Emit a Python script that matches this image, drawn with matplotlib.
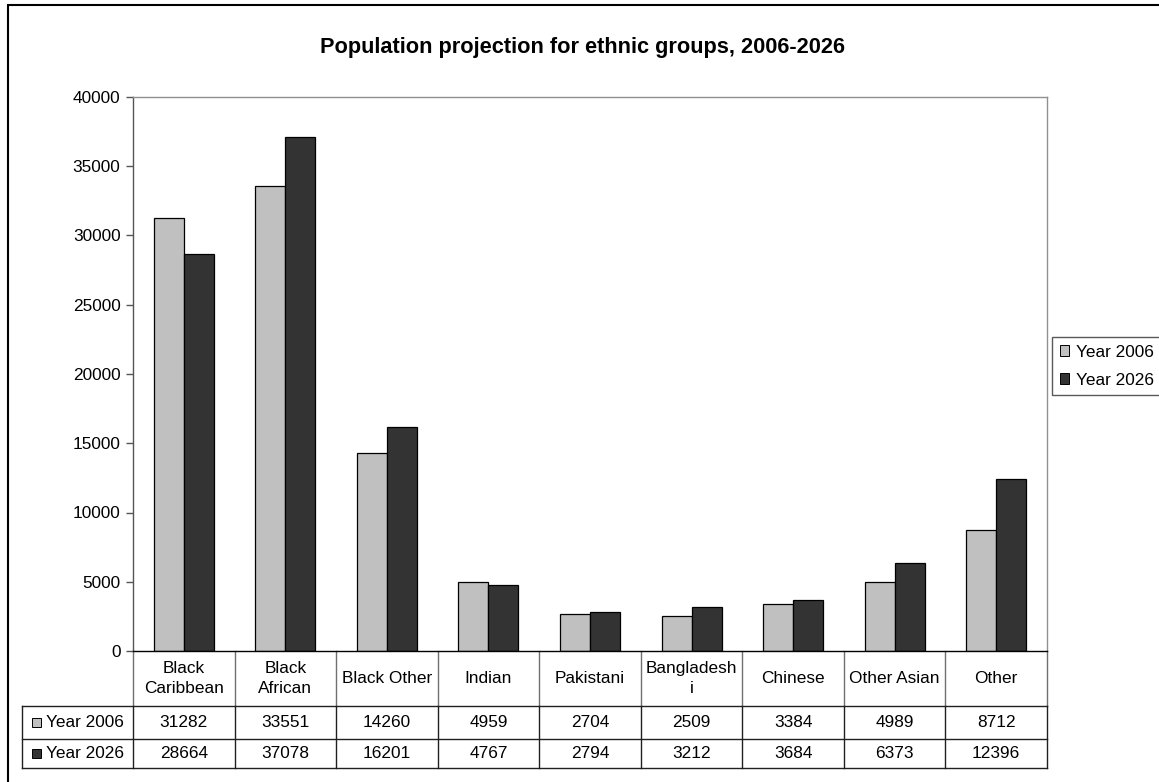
import matplotlib.pyplot as plt
from matplotlib.patches import Patch, Rectangle
import matplotlib.transforms as mtransforms

plt.rcParams['font.family'] = ['Liberation Sans', 'DejaVu Sans']

categories = ['Black\nCaribbean', 'Black\nAfrican', 'Black Other', 'Indian', 'Pakistani',
              'Bangladesh\ni', 'Chinese', 'Other Asian', 'Other']
year_2006 = [31282, 33551, 14260, 4959, 2704, 2509, 3384, 4989, 8712]
year_2026 = [28664, 37078, 16201, 4767, 2794, 3212, 3684, 6373, 12396]
series_names = ['Year 2006', 'Year 2026']
series_colors = ['#c0c0c0', '#333333']

W, H = 1159, 782
FS = 12.4
fig = plt.figure(figsize=(W / 100, H / 100), dpi=100)

# outer chart frame (pixel coords)
fig.patches.append(Rectangle((8 / W, 1 - 790 / H), 1170 / W, 785 / H, transform=fig.transFigure,
                             fill=False, edgecolor='black', linewidth=1.5, clip_on=False))

# plot area
x0, x1, y0, y1 = 133, 1047, 97, 651
ax = fig.add_axes([x0 / W, 1 - y1 / H, (x1 - x0) / W, (y1 - y0) / H])

n = len(categories)
xs = list(range(n))
bw = 0.295
ax.bar([x - bw / 2 for x in xs], year_2006, width=bw, color=series_colors[0],
       edgecolor='black', linewidth=0.9)
ax.bar([x + bw / 2 for x in xs], year_2026, width=bw, color=series_colors[1],
       edgecolor='black', linewidth=0.9)

ax.set_xlim(-0.5, n - 0.5)
ax.set_ylim(0, 40000)
ax.set_yticks(range(0, 40001, 5000))
ax.set_xticks([])
ax.tick_params(axis='y', direction='out', length=5, width=1, color='#555555',
               labelsize=FS, pad=4)
ax.spines['left'].set_color('#555555')
ax.spines['bottom'].set_color('black')
ax.spines['top'].set_color('#909090')
ax.spines['right'].set_color('#909090')
for s in ax.spines.values():
    s.set_linewidth(1)

fig.text(583 / W, 1 - 47 / H, 'Population projection for ethnic groups, 2006-2026',
         fontsize=15.7, fontweight='bold', ha='center', va='center')

# data table under the axis
ph = y1 - y0
def ay(py):
    return (y1 - py) / ph

trans = mtransforms.blended_transform_factory(ax.transData, ax.transAxes)
unit = (x1 - x0) / n
label_left = -0.5 - (x0 - 22) / unit
rows = [651, 706, 739, 768]
lkw = dict(transform=trans, clip_on=False, linewidth=1)

# header row
for i in range(n + 1):
    ax.plot([i - 0.5, i - 0.5], [ay(rows[0]), ay(rows[1])], color='#707070', **lkw)
for i, c in enumerate(categories):
    ax.text(i, ay((rows[0] + rows[1]) / 2), c, transform=trans, ha='center', va='center',
            fontsize=FS, linespacing=1.35)

# value rows
for r in range(1, 4):
    ax.plot([label_left, n - 0.5], [ay(rows[r])] * 2, color='#202020', **lkw)
for xb in [label_left] + [i - 0.5 for i in range(n + 1)]:
    ax.plot([xb, xb], [ay(rows[1]), ay(rows[3])], color='#202020', **lkw)

for r, (name, vals, col) in enumerate(zip(series_names, [year_2006, year_2026], series_colors)):
    yc = ay((rows[r + 1] + rows[r + 2]) / 2)
    ax.add_patch(Rectangle((label_left + 9.7 / unit, yc - 4.5 / ph), 9 / unit, 9 / ph,
                           transform=trans, facecolor=col, edgecolor='black', linewidth=0.7,
                           clip_on=False))
    ax.text(label_left + 24 / unit, yc, name, transform=trans, ha='left', va='center', fontsize=FS)
    for i, v in enumerate(vals):
        ax.text(i, yc, str(v), transform=trans, ha='center', va='center', fontsize=FS)

# legend
handles = [Patch(facecolor=c, edgecolor='black', linewidth=0.7) for c in series_colors]
leg = fig.legend(handles, series_names, loc='upper left',
                 bbox_to_anchor=(1052 / W, 1 - 337 / H), fontsize=FS, frameon=True,
                 fancybox=False, edgecolor='#303030', handlelength=0.55, handleheight=0.55,
                 handletextpad=0.4, borderpad=0.45, labelspacing=0.75, borderaxespad=0)
leg.get_frame().set_linewidth(1)

fig.savefig('out.png', dpi=100)
